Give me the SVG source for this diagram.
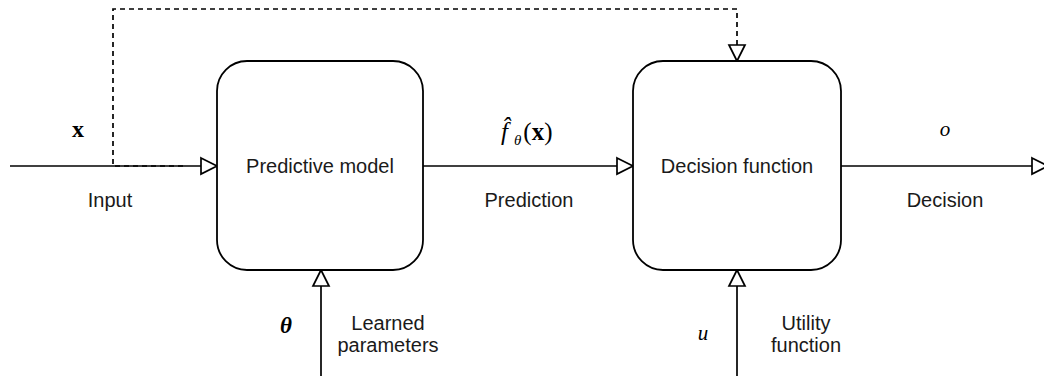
<svg xmlns="http://www.w3.org/2000/svg" width="1044" height="376" viewBox="0 0 1044 376">
<style>
.box{fill:#fff;stroke:#000;stroke-width:1.8}
.ln{fill:none;stroke:#000;stroke-width:1.7}
.dash{stroke-dasharray:5 4}
.lbl{font-family:"Liberation Sans",Arial,sans-serif;font-size:20px;fill:#1a1a1a;text-anchor:middle}
.m{font-family:"Liberation Serif","DejaVu Serif",serif;fill:#000;text-anchor:middle}
</style>
<defs>
<marker id="tri" markerUnits="userSpaceOnUse" markerWidth="22" markerHeight="22" refX="17" refY="9" orient="auto" overflow="visible">
<path d="M1,1 L17,9 L1,17 Z" fill="#fff" stroke="#000" stroke-width="1.7"/>
</marker>
</defs>
<g id="connectors">
<path class="ln" d="M10,166 H217" marker-end="url(#tri)"/>
<path class="ln dash" d="M183,166 H113 V9 H737 V61" marker-end="url(#tri)"/>
<path class="ln" d="M423,166 H633" marker-end="url(#tri)"/>
<path class="ln" d="M841,166 H1048" marker-end="url(#tri)"/>
<path class="ln" d="M321,376 V270" marker-end="url(#tri)"/>
<path class="ln" d="M737,376 V270" marker-end="url(#tri)"/>
</g>
<g id="predictive-model">
<rect class="box" x="217" y="61" width="206" height="209" rx="30" ry="30"/>
<text class="lbl" x="320" y="173">Predictive model</text>
</g>
<g id="decision-function">
<rect class="box" x="633" y="61" width="208" height="209" rx="30" ry="30"/>
<text class="lbl" x="737" y="173">Decision function</text>
</g>
<g id="labels">
<text class="m" x="78" y="137" font-size="24" font-weight="bold">x</text>
<text class="lbl" x="110" y="207">Input</text>
<text class="m" x="501" y="140" font-size="25" style="text-anchor:start"><tspan font-style="italic">f̂</tspan><tspan dx="6" dy="5" font-size="15" font-style="italic">θ</tspan><tspan dx="2" dy="-5">(</tspan><tspan font-weight="bold">x</tspan><tspan>)</tspan></text>
<text class="lbl" x="529" y="207">Prediction</text>
<text class="m" x="945" y="136" font-size="21" font-style="italic">o</text>
<text class="lbl" x="945" y="207">Decision</text>
<text class="m" x="286" y="333" font-size="23" font-style="italic" font-weight="bold">θ</text>
<text class="lbl" x="388" y="330">Learned</text>
<text class="lbl" x="388" y="352">parameters</text>
<text class="m" x="703" y="340" font-size="21" font-style="italic">u</text>
<text class="lbl" x="806" y="330">Utility</text>
<text class="lbl" x="806" y="352">function</text>
</g>
</svg>
